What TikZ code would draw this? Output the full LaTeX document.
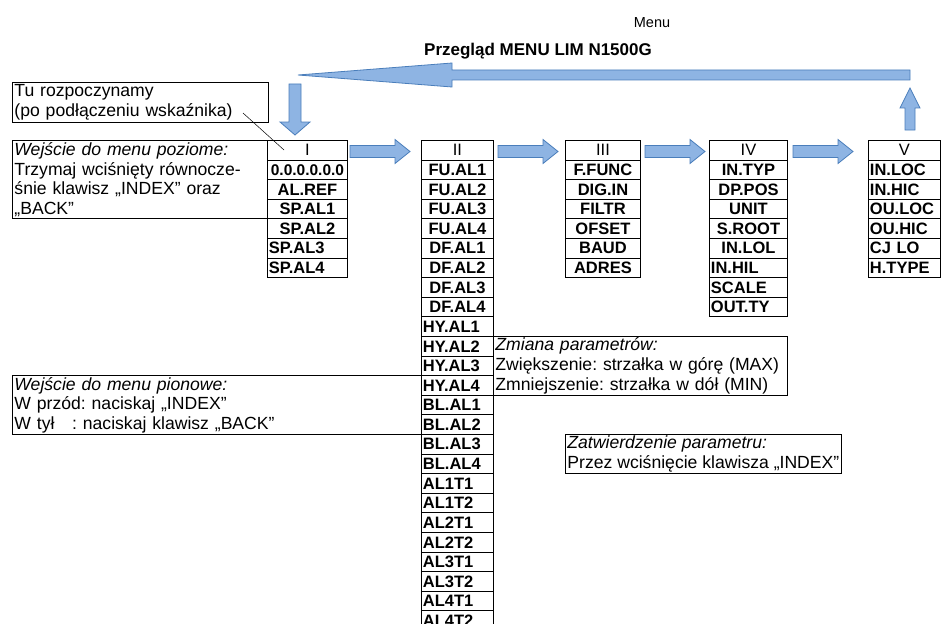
\documentclass[tikz,border=0pt]{standalone}
\usepackage{fontspec}
\setmainfont{Liberation Sans}
\usetikzlibrary{positioning}
\definecolor{arrowfill}{RGB}{142,180,227}
\definecolor{arrowline}{RGB}{74,126,187}
\newcommand\notefont{\fontsize{17.6}{19.6}\selectfont}
\newcommand\tabfont{\fontsize{16.5}{19.6}\selectfont}
\frenchspacing

\begin{document}
\begin{tikzpicture}[x=1pt,y=-1pt,
    blockarrow/.style={fill=arrowfill,draw=arrowline,line width=0.8pt,line join=miter},
    cell/.style={draw,line width=0.9pt,anchor=north west,minimum height=19.6pt,
      inner xsep=1.5pt,inner ysep=0pt,font=\tabfont\bfseries},
    head/.style={cell,font=\tabfont,align=center},
    notebox/.style={draw,line width=0.9pt,anchor=north west,inner xsep=2pt,
      inner ysep=0pt,align=left,font=\notefont}]
    \useasboundingbox (0,0) rectangle (941,623);
    \clip (0,0) rectangle (941,623);
    \fill[white] (0,0) rectangle (941,623);

    % titles
    \node[font=\fontsize{14.5}{17}\selectfont] (page) at (652,23) {Menu};
    \node[font=\fontsize{17}{20}\selectfont\bfseries] (title) at (538,51) {Przegląd MENU LIM N1500G};

    % block arrows
    \filldraw[blockarrow] (910,70) -- (452,70) -- (452,63) -- (298,75) -- (452,87) -- (452,80) -- (910,80) -- cycle;
    \filldraw[blockarrow] (289,84) -- (301,84) -- (301,122) -- (310,122) -- (295,135) -- (280,122) -- (289,122) -- cycle;
    \filldraw[blockarrow] (905,130) -- (915,130) -- (915,108) -- (920,108) -- (910,88) -- (900,108) -- (905,108) -- cycle;
    \foreach \xa in {350,498,645,793} {
        \filldraw[blockarrow] (\xa,145.5) -- ++(45,0) -- ++(0,-6) -- ++(15,12) -- ++(-15,12) -- ++(0,-6) -- ++(-45,0) -- cycle;
    }

    % notes
    \node[notebox,text width=252pt,minimum height=40pt] (start) at (12,82)
        {Tu rozpoczynamy\\(po podłączeniu wskaźnika)};
    \node[notebox,text width=251pt,minimum height=78.4pt] (hmenu) at (12,140)
        {\textit{Wejście do menu poziome:}\\Trzymaj wciśnięty równocze-\\śnie klawisz „INDEX” oraz\\„BACK”};
    \node[notebox,text width=405pt,minimum height=58.8pt] (vmenu) at (12,375.2)
        {\textit{Wejście do menu pionowe:}\\W przód: naciskaj „INDEX”\\W tył\ \ \ : naciskaj klawisz „BACK”};
    \node[notebox,text width=290pt,minimum height=58.8pt] (change) at (493,336)
        {\textit{Zmiana parametrów:}\\Zwiększenie: strzałka w górę (MAX)\\Zmniejszenie: strzałka w dół (MIN)};
    \node[notebox,minimum height=39.2pt] (confirm) at (565,434)
        {\textit{Zatwierdzenie parametru:}\\Przez wciśnięcie klawisza „INDEX”};

    % column I
    \node[head,text width=77pt] (I-0) at (267,140) {I};
    \foreach \al/\val [count=\n] in {center/{\fontsize{15.5}{19.6}\selectfont 0.0.0.0.0.0},center/AL.REF,center/SP.AL1,
        center/SP.AL2,left/SP.AL3,left/SP.AL4}
        \node[cell,text width=77pt,align=\al] (I-\n) at (267,140+\n*19.6) {\val};

    % column II
    \node[head,text width=69pt] (II-0) at (421,140) {II};
    \foreach \al/\val [count=\n] in {center/FU.AL1,center/FU.AL2,center/FU.AL3,center/FU.AL4,
        center/DF.AL1,center/DF.AL2,center/DF.AL3,center/DF.AL4,
        left/HY.AL1,left/HY.AL2,left/HY.AL3,left/HY.AL4,
        left/BL.AL1,left/BL.AL2,left/BL.AL3,left/BL.AL4,
        left/AL1T1,left/AL1T2,left/AL2T1,left/AL2T2,left/AL3T1,left/AL3T2,left/AL4T1,left/AL4T2}
        \node[cell,text width=69pt,align=\al] (II-\n) at (421,140+\n*19.6) {\val};

    % column III
    \node[head,text width=72pt] (III-0) at (565,140) {III};
    \foreach \val [count=\n] in {F.FUNC,DIG.IN,FILTR,OFSET,BAUD,ADRES}
        \node[cell,text width=72pt,align=center] (III-\n) at (565,140+\n*19.6) {\val};

    % column IV
    \node[head,text width=75pt] (IV-0) at (709,140) {IV};
    \foreach \al/\val [count=\n] in {center/IN.TYP,center/DP.POS,center/UNIT,center/S.ROOT,
        center/IN.LOL,left/IN.HIL,left/SCALE,left/OUT.TY}
        \node[cell,text width=75pt,align=\al] (IV-\n) at (709,140+\n*19.6) {\val};

    % column V
    \node[head,text width=69pt] (V-0) at (868,140) {V};
    \foreach \val [count=\n] in {IN.LOC,IN.HIC,OU.LOC,OU.HIC,CJ LO,H.TYPE}
        \node[cell,text width=69pt,align=left] (V-\n) at (868,140+\n*19.6) {\val};

    % leader from the start note to column I
    \coordinate (startpt) at (243,113);
    \coordinate (headpt) at (284,150);
    \draw[line width=0.5pt] (startpt) -- (headpt);
\end{tikzpicture}
\end{document}
